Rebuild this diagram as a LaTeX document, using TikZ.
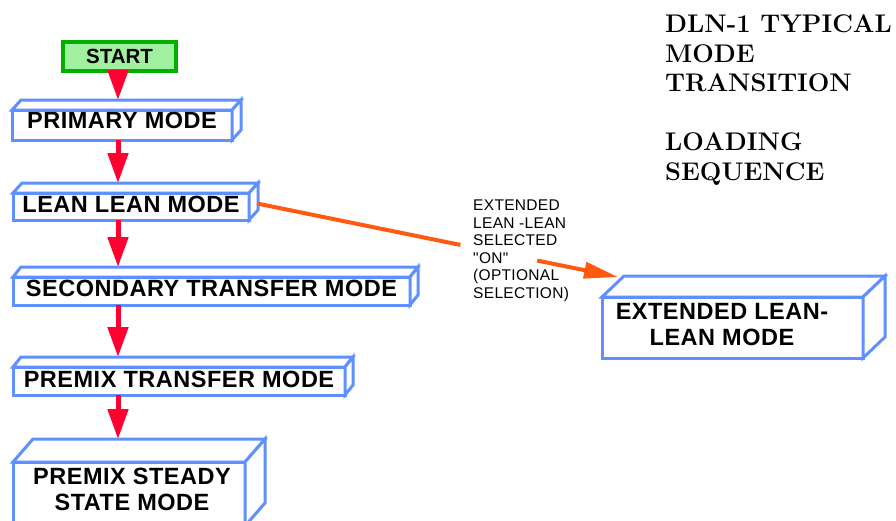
\documentclass[tikz,border=0pt]{standalone}
\usepackage{fontspec}
\newfontfamily\arialfont{Liberation Sans}
\newfontfamily\arialwide[LetterSpace=2.2]{Liberation Sans}
\newfontfamily\arialnote[LetterSpace=2]{Liberation Sans}
\usetikzlibrary{arrows.meta,calc}
\definecolor{boxblue}{HTML}{6090FF}
\definecolor{arrred}{HTML}{FF0030}
\definecolor{arrorange}{HTML}{FF5A10}
\definecolor{startfill}{HTML}{A0F0A0}
\definecolor{startline}{HTML}{00B000}
\newcommand\depthfaces[3]{%
  \draw[boxline, fill=white] (#1.north west) -- ++(#2,#3) -- ([shift={(#2,#3)}]#1.north east) -- (#1.north east) -- cycle;
  \draw[boxline, fill=white] (#1.north east) -- ([shift={(#2,#3)}]#1.north east) -- ([shift={(#2,#3)}]#1.south east) -- (#1.south east) -- cycle;
}
\begin{document}
\begin{tikzpicture}[x=1pt,y=-1pt,
  boxline/.style={draw=boxblue, line width=3pt, line join=miter},
  modebox/.style={boxline, fill=white, rectangle, inner sep=0pt, outer sep=0pt,
    font=\arialwide\bfseries\fontsize{23.5}{26}\selectfont, align=center},
  boxtext/.style={inner sep=0pt, font=\arialwide\bfseries\fontsize{23.5}{26}\selectfont, align=center},
  startbox/.style={draw=startline, fill=startfill, line width=3.5pt, rectangle, inner sep=0pt, outer sep=0pt,
    font=\arialfont\bfseries\fontsize{20.5}{22}\selectfont},
  redarrow/.style={draw=arrred, line width=5pt, -{Triangle[length=30pt,width=20pt]}},
  orangeline/.style={draw=arrorange, line width=4pt},
  orangearrow/.style={orangeline, -{Triangle[length=34pt,width=16pt]}},
  labeltext/.style={inner sep=0pt, align=left, font=\arialnote\fontsize{15.5}{17.5}\selectfont},
  titletext/.style={inner sep=0pt, align=left, font=\bfseries\fontsize{25.5}{29.5}\selectfont}
]
\useasboundingbox (0,0) rectangle (896,520);

% title
\node[titletext, anchor=north west] (title) at (665,14.5)
  {DLN-1 TYPICAL\\MODE\\TRANSITION\\[29.5pt]LOADING\\SEQUENCE};

% boxes
\node[startbox, minimum width=113, minimum height=29] (start) at (119.5,56.5) {START};

\node[modebox, minimum width=220, minimum height=30, text depth=9pt] (primary) at (122,125) {PRIMARY MODE};
\depthfaces{primary}{9}{-10}

\node[modebox, minimum width=236, minimum height=27, text depth=4pt] (lean) at (131,206.5) {LEAN LEAN MODE};
\depthfaces{lean}{9}{-10}

\node[modebox, minimum width=397, minimum height=28, text depth=5pt] (secondary) at (211.5,291) {SECONDARY TRANSFER MODE};
\depthfaces{secondary}{8}{-10}

\node[modebox, minimum width=332, minimum height=28, text depth=4pt] (premix) at (179,381) {PREMIX TRANSFER MODE};
\depthfaces{premix}{8}{-10}

\node[modebox, minimum width=232, minimum height=64] (steady) at (129,494) {};
\depthfaces{steady}{20}{-23}
\node[boxtext] (steadytxt) at (132,489) {PREMIX STEADY\\STATE MODE};

\node[modebox, minimum width=261, minimum height=61] (ext) at (732.5,327.5) {};
\depthfaces{ext}{22}{-21}
\node[boxtext] (exttxt) at (722,325) {EXTENDED LEAN-\\LEAN MODE};

% condition label
\node[labeltext, anchor=north west] (cond) at (473,200)
  {EXTENDED\\LEAN -LEAN\\SELECTED\\"ON"\\(OPTIONAL\\SELECTION)};

% red flow arrows
\coordinate (ax) at (118,0);
\draw[redarrow] (start.south -| ax) -- ($(primary.north -| ax)+(0,-10)$);
\draw[redarrow] (primary.south -| ax) -- ($(lean.north -| ax)+(0,-10)$);
\draw[redarrow] (lean.south -| ax) -- ($(secondary.north -| ax)+(0,-10)$);
\draw[redarrow] (secondary.south -| ax) -- ($(premix.north -| ax)+(0,-10)$);
\draw[redarrow] (premix.south -| ax) -- ($(steady.north -| ax)+(0,-23)$);

% orange optional transition
\coordinate (oa) at ($(lean.east)+(8,-3)$);
\coordinate (ob) at ($(ext.north west)+(16,-20)$);
\draw[orangeline] (oa) -- ($(oa)!0.5635!(ob)$);
\draw[orangearrow] ($(oa)!0.776!(ob)$) -- (ob);
\end{tikzpicture}
\end{document}
